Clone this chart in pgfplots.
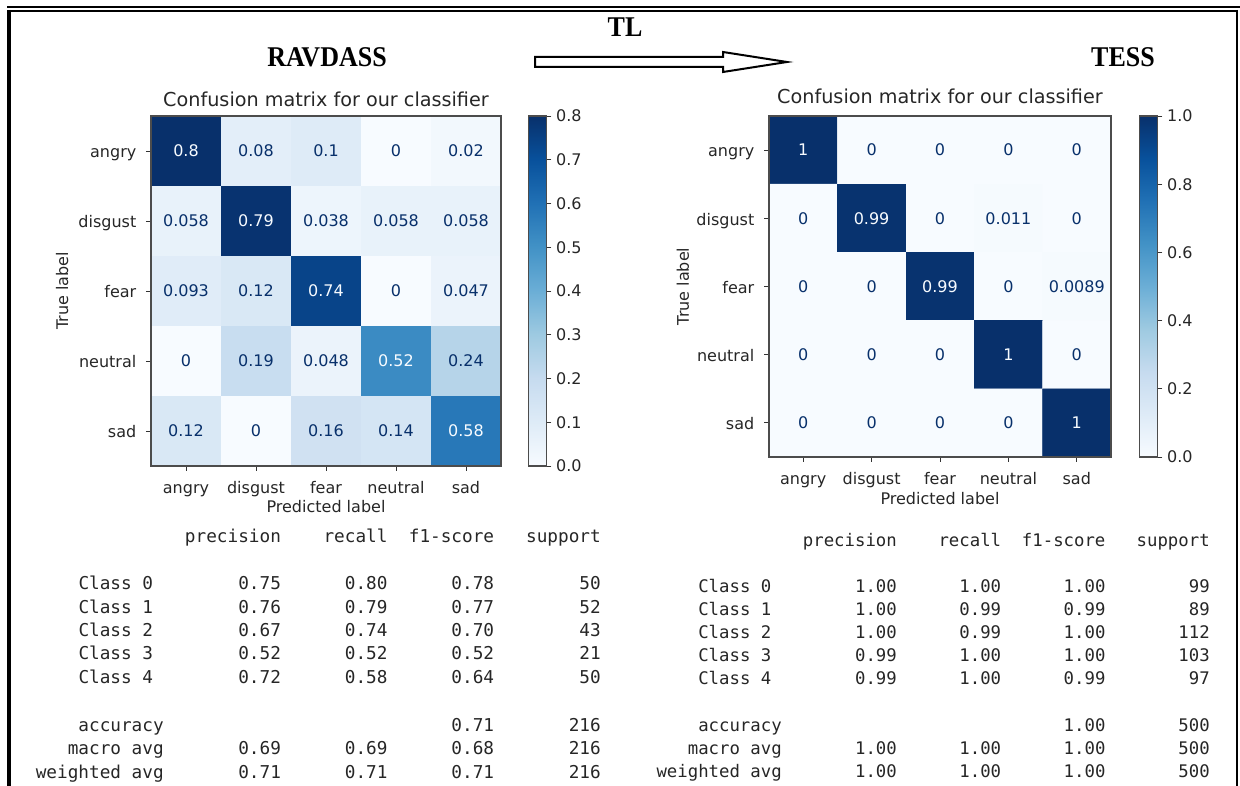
\documentclass[border=0pt]{standalone}
\usepackage{fontspec}
\setmainfont{DejaVu Sans}
\newfontfamily\tnr{Liberation Serif}
\newfontfamily\mono{DejaVu Sans Mono}
\usepackage{pgfplots}
\pgfplotsset{compat=1.18}
\usepackage{pgfplotstable}

\definecolor{cmdark}{RGB}{8,48,107}
\definecolor{cmlight}{RGB}{247,251,255}

\pgfplotsset{
  colormap={blues}{rgb255=(247,251,255) rgb255=(222,235,247) rgb255=(198,219,239)
    rgb255=(158,202,225) rgb255=(107,174,214) rgb255=(66,146,198) rgb255=(33,113,181)
    rgb255=(8,81,156) rgb255=(8,48,107)},
  cm/.style={
    scale only axis, enlargelimits=false, axis on top,
    xmin=-0.5, xmax=4.5, ymin=-0.5, ymax=4.5, y dir=reverse,
    xtick={0,1,2,3,4}, ytick={0,1,2,3,4},
    xticklabels={angry,disgust,fear,neutral,sad},
    yticklabels={angry,disgust,fear,neutral,sad},
    tick align=outside, xtick pos=lower, ytick pos=left,
    major tick length=3.75pt,
    tick style={black!80, line width=0.6pt},
    axis line style={black!70, line width=0.8pt},
    ticklabel style={font=\fontsize{12}{14}\selectfont, text=black!85},
    typeset ticklabels with strut,
    xticklabel style={yshift=-3.75pt},
    yticklabel style={yshift=-2.25pt, xshift=-3.75pt},
    title={Confusion matrix for our classifier},
    title style={anchor=base, font=\fontsize{14.4}{16}\selectfont, text=black!85},
    xlabel={Predicted label}, ylabel={True label},
    xlabel style={anchor=base, font=\fontsize{12}{14}\selectfont, text=black!85},
    ylabel style={anchor=center, font=\fontsize{12}{14}\selectfont, text=black!85},
    colormap name=blues,
  },
  cbar/.style={
    at={(parent axis.north east)}, anchor=north west,
    width=13.5pt,
    tick align=outside, ytick pos=right, yticklabel pos=right,
    major tick length=3.75pt,
    tick style={black!80, line width=0.6pt},
    axis line style={black!70, line width=0.8pt},
    yticklabel style={font=\fontsize{12}{14}\selectfont, text=black!85,
      /pgf/number format/.cd, fixed, fixed zerofill, precision=1, assume math mode=true},
  },
  cmtext/.style={
    draw=none, mark=none,
    point meta=explicit symbolic,
    visualization depends on={\thisrow{c} \as \cval},
    nodes near coords={\pgfmathtruncatemacro\hi{\cval>#1}\ifnum\hi=1\color{cmlight}\else\color{cmdark}\fi\pgfplotspointmeta},
    nodes near coords style={anchor=center, font=\fontsize{12}{14}\selectfont},
  },
}

\pgfplotstableread{
x y c
0 0 0.8
1 0 0.08
2 0 0.1
3 0 0
4 0 0.02
0 1 0.058
1 1 0.79
2 1 0.038
3 1 0.058
4 1 0.058
0 2 0.093
1 2 0.12
2 2 0.74
3 2 0
4 2 0.047
0 3 0
1 3 0.19
2 3 0.048
3 3 0.52
4 3 0.24
0 4 0.12
1 4 0
2 4 0.16
3 4 0.14
4 4 0.58
}\ravdess

\pgfplotstableread{
x y c
0 0 1
1 0 0
2 0 0
3 0 0
4 0 0
0 1 0
1 1 0.99
2 1 0
3 1 0.011
4 1 0
0 2 0
1 2 0
2 2 0.99
3 2 0
4 2 0.0089
0 3 0
1 3 0
2 3 0
3 3 1
4 3 0
0 4 0
1 4 0
2 4 0
3 4 0
4 4 1
}\tess

\begin{document}
\begin{tikzpicture}
\path[use as bounding box] (0pt,0pt) rectangle (930pt,589.5pt);

% ---- left matrix (RAVDASS)
\begin{axis}[cm,
  at={(113.25pt,502.5pt)}, anchor=north west,
  width=262.5pt, height=262.5pt,
  title style={at={(0.5,1.003)}},
  xlabel style={at={(0.5,-0.134)}},
  ylabel style={at={(-0.254,0.5)}},
  point meta min=0, point meta max=0.8,
  colorbar,
  colorbar style={cbar, xshift=12pt, ytick={0,0.1,0.2,0.3,0.4,0.5,0.6,0.7,0.8}},
]
\addplot[matrix plot*, mesh/cols=5, point meta=explicit] table[x=x, y=y, meta=c] {\ravdess};
\addplot[cmtext=0.4] table[x=x, y=y, meta=c] {\ravdess};
\end{axis}

% ---- right matrix (TESS)
\begin{axis}[cm,
  at={(576.75pt,502.5pt)}, anchor=north west,
  width=256.5pt, height=255.75pt,
  title style={at={(0.5,1.012)}},
  xlabel style={at={(0.5,-0.138)}},
  ylabel style={at={(-0.2515,0.5)}},
  point meta min=0, point meta max=1,
  colorbar,
  colorbar style={cbar, xshift=12.75pt, ytick={0,0.2,0.4,0.6,0.8,1.0}},
]
\addplot[matrix plot*, mesh/cols=5, point meta=explicit] table[x=x, y=y, meta=c] {\tess};
\addplot[cmtext=0.5] table[x=x, y=y, meta=c] {\tess};
\end{axis}

\begin{scope}[shift={(0pt,589.5pt)}, x=0.75pt, y=-0.75pt]
  % frame
  \draw[line width=1.5pt] (7,7) -- (1240,7);
  \draw[line width=2.2pt] (9,11) -- (1238,11);
  \draw[line width=3pt] (9,10) -- (9,786);
  \draw[line width=1.8pt] (1237,10) -- (1237,786);
  % headings
  \node[anchor=base, inner sep=0pt, font=\tnr\bfseries\fontsize{19.5}{20}\selectfont, yscale=1.1] at (327,66.5) {RAVDASS};
  \node[anchor=base, inner sep=0pt, font=\tnr\bfseries\fontsize{19.5}{20}\selectfont, yscale=1.1] at (625,37) {TL};
  \node[anchor=base, inner sep=0pt, font=\tnr\bfseries\fontsize{19.5}{20}\selectfont, yscale=1.1] at (1123,66.5) {TESS};
  % arrow
  \draw[line width=1.5pt, fill=white, line join=miter]
    (535,57) -- (723,57) -- (723,52) -- (787,62) -- (723,72) -- (723,67) -- (535,67) -- cycle;

  % tables
  \tikzset{tbl/.style={inner sep=0pt, anchor=base east, text=black!85, font=\mono\fontsize{13.28}{14}\selectfont},
           tbr/.style={inner sep=0pt, anchor=base east, text=black!85, font=\mono\fontsize{13}{14}\selectfont}}
  \newcommand\Lrow[7]{%
    \node[tbl] at (#2,#1) {#3};
    \node[tbl] at (281.2,#1) {#4};
    \node[tbl] at (387.8,#1) {#5};
    \node[tbl] at (494.4,#1) {#6};
    \node[tbl] at (601,#1) {#7};}
  \newcommand\Rrow[7]{%
    \node[tbr] at (#2,#1) {#3};
    \node[tbr] at (897.1,#1) {#4};
    \node[tbr] at (1001.4,#1) {#5};
    \node[tbr] at (1105.7,#1) {#6};
    \node[tbr] at (1210,#1) {#7};}
  \Lrow{543}{164}{}{precision}{recall}{f1-score}{support}
  \Lrow{590}{153.4}{Class 0}{0.75}{0.80}{0.78}{50}
  \Lrow{613.3}{153.4}{Class 1}{0.76}{0.79}{0.77}{52}
  \Lrow{636.7}{153.4}{Class 2}{0.67}{0.74}{0.70}{43}
  \Lrow{660}{153.4}{Class 3}{0.52}{0.52}{0.52}{21}
  \Lrow{683.3}{153.4}{Class 4}{0.72}{0.58}{0.64}{50}
  \Lrow{731.7}{164}{accuracy}{}{}{0.71}{216}
  \Lrow{755}{164}{macro avg}{0.69}{0.69}{0.68}{216}
  \Lrow{778.3}{164}{weighted avg}{0.71}{0.71}{0.71}{216}

  \Rrow{547}{782}{}{precision}{recall}{f1-score}{support}
  \Rrow{593}{771.6}{Class 0}{1.00}{1.00}{1.00}{99}
  \Rrow{616}{771.6}{Class 1}{1.00}{0.99}{0.99}{89}
  \Rrow{639}{771.6}{Class 2}{1.00}{0.99}{1.00}{112}
  \Rrow{662}{771.6}{Class 3}{0.99}{1.00}{1.00}{103}
  \Rrow{685}{771.6}{Class 4}{0.99}{1.00}{0.99}{97}
  \Rrow{732}{782}{accuracy}{}{}{1.00}{500}
  \Rrow{755}{782}{macro avg}{1.00}{1.00}{1.00}{500}
  \Rrow{778}{782}{weighted avg}{1.00}{1.00}{1.00}{500}
\end{scope}
\end{tikzpicture}
\end{document}
